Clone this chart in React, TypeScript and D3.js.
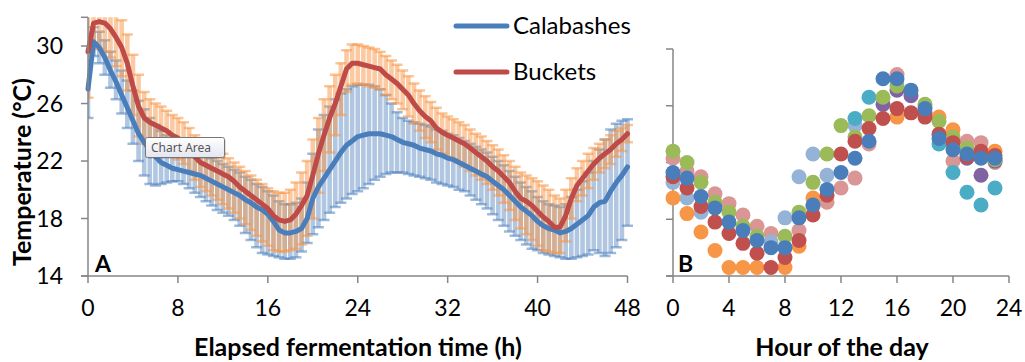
import React from "react";
import * as d3 from "d3";

// Panel A: elapsed fermentation time (h), every 0.5 h
const hours = d3.range(0, 48.5, 0.5);
const calMean = [
  27.0,30.3,29.9,29.2,28.3,27.5,26.6,25.7,24.8,23.9,
  23.3,22.8,22.3,21.9,21.7,21.5,21.4,21.3,21.2,21.1,
  21.0,20.8,20.6,20.4,20.2,20.0,19.8,19.6,19.3,19.1,
  18.8,18.6,18.3,17.8,17.2,17.0,17.0,17.1,17.3,18.0,
  19.4,20.2,20.8,21.4,22.0,22.6,23.1,23.4,23.7,23.8,
  23.9,23.9,23.9,23.8,23.7,23.5,23.3,23.2,23.1,22.9,
  22.8,22.7,22.5,22.4,22.2,22.1,21.9,21.7,21.5,21.3,
  21.1,20.9,20.6,20.3,20.0,19.6,19.2,18.8,18.5,18.2,
  17.8,17.5,17.3,17.2,17.0,17.1,17.3,17.6,17.9,18.2,
  18.8,19.1,19.2,19.9,20.5,21.0,21.6
];
const calHi = [
  29.0,31.3,31.0,30.4,29.6,29.0,28.3,27.6,26.9,26.2,
  25.6,25.0,24.5,24.1,23.8,23.5,23.3,23.1,23.0,22.8,
  22.6,22.4,22.2,22.0,21.8,21.6,21.4,21.2,20.9,20.7,
  20.4,20.2,19.9,19.6,19.2,19.0,19.0,19.1,19.4,20.5,
  22.5,24.2,25.2,25.8,26.3,26.7,27.0,27.2,27.3,27.3,
  27.3,27.2,27.0,26.6,26.0,25.4,25.0,24.8,24.7,24.6,
  24.5,24.4,24.2,24.1,23.9,23.8,23.6,23.4,23.2,23.0,
  22.8,22.6,22.3,22.0,21.7,21.3,20.9,20.5,20.2,19.9,
  19.5,19.2,19.0,18.9,18.8,19.0,19.5,20.0,20.6,21.2,
  22.0,22.8,23.5,24.2,24.6,24.8,24.9
];
const calLo = [
  25.0,29.3,28.8,28.0,27.1,26.3,25.3,24.3,23.2,22.0,
  21.0,20.4,20.3,20.4,20.5,20.6,20.6,20.4,20.1,19.8,
  19.5,19.2,18.9,18.6,18.4,18.2,17.9,17.5,17.0,16.5,
  16.0,15.6,15.5,15.4,15.3,15.2,15.2,15.3,15.7,16.3,
  16.9,17.4,17.9,18.4,18.8,19.1,19.4,19.7,19.9,20.1,
  20.4,20.7,20.9,21.1,21.2,21.2,21.2,21.1,21.0,20.9,
  20.8,20.7,20.5,20.4,20.3,20.2,20.0,19.9,19.6,19.3,
  19.0,18.7,18.3,17.9,17.5,17.1,16.8,16.5,16.2,15.9,
  15.8,15.6,15.5,15.4,15.3,15.2,15.2,15.3,15.4,15.5,
  15.8,15.6,15.4,15.6,16.0,16.5,17.5
];
const bucMean = [
  29.6,31.6,31.7,31.6,31.2,30.6,29.9,28.8,27.2,25.8,
  25.0,24.7,24.5,24.3,24.1,23.8,23.6,23.3,22.8,22.3,
  21.9,21.7,21.5,21.3,21.1,20.9,20.6,20.2,19.9,19.6,
  19.3,19.0,18.7,18.2,17.9,17.8,17.9,18.3,18.9,19.6,
  21.0,22.5,23.8,25.0,26.0,27.2,28.4,28.8,28.8,28.7,
  28.6,28.5,28.4,28.0,27.7,27.4,27.0,26.6,26.0,25.5,
  25.1,24.8,24.3,24.0,23.8,23.6,23.4,23.2,22.9,22.6,
  22.3,22.0,21.6,21.3,20.9,20.5,19.9,19.4,19.2,18.9,
  18.5,18.1,17.8,17.4,17.4,18.2,19.4,20.3,20.8,21.3,
  21.8,22.2,22.5,22.8,23.2,23.5,23.9
];
const bucHi = [
  32.8,33.5,33.5,33.4,33.0,32.5,31.8,30.8,29.4,28.0,
  26.8,26.3,26.0,25.8,25.5,25.2,25.0,24.7,24.3,23.8,
  23.5,23.2,23.0,22.7,22.5,22.2,21.9,21.6,21.3,21.0,
  20.7,20.4,20.1,19.9,19.8,19.8,20.0,20.5,21.2,22.0,
  23.5,25.0,26.3,27.2,28.0,28.8,29.7,30.1,30.1,30.0,
  29.9,29.8,29.6,29.3,29.0,28.7,28.3,27.9,27.4,26.9,
  26.5,26.1,25.7,25.3,25.1,24.9,24.7,24.5,24.2,23.9,
  23.7,23.4,23.1,22.8,22.4,22.0,21.6,21.2,21.0,20.8,
  20.6,20.3,20.0,19.6,19.4,20.0,20.8,21.5,22.0,22.5,
  22.9,23.2,23.5,23.8,24.1,24.3,24.5
];
const bucLo = [
  26.4,29.8,29.8,29.6,29.2,28.6,27.9,26.9,25.2,23.7,
  23.2,23.0,22.9,22.7,22.5,22.3,22.1,21.8,21.3,20.7,
  20.2,19.9,19.6,19.3,19.0,18.7,18.4,18.0,17.6,17.2,
  16.8,16.4,16.1,15.8,15.7,15.7,15.8,15.9,16.2,16.8,
  18.0,19.8,21.3,22.6,23.8,25.2,26.8,27.3,27.4,27.3,
  27.2,27.1,27.0,26.6,26.3,26.0,25.6,25.1,24.6,24.1,
  23.6,23.3,22.8,22.5,22.3,22.1,21.9,21.6,21.3,21.0,
  20.7,20.4,20.0,19.6,19.1,18.6,17.9,17.3,16.9,16.5,
  16.1,15.8,15.7,15.6,15.6,16.4,18.0,19.2,19.6,20.1,
  20.7,21.2,21.5,21.8,22.3,22.7,23.3
];
const xTicksA = [0, 8, 16, 24, 32, 40, 48];
const yTicks = [14, 18, 22, 26, 30];
const legendLabels = ["Calabashes", "Buckets"];

// Panel B: hour of the day, several fermentations
const hourOfDay = d3.range(0, 24);
const xTicksB = [0, 4, 8, 12, 16, 20, 24];
const _ = null;
const pinkS = [22.3,21.4,21.0,19.8,19.1,18.3,17.5,17.0,_,17.2,18.9,19.2,20.2,20.9,23.3,_,28.2,_,_,_,22.1,23.5,23.4,22.0];
const lightBlueS = [20.6,19.5,18.5,_,_,_,_,16.4,18.1,21.0,22.6,21.1,_,24.6,_,_,_,_,_,_,_,_,_,_];
const orangeS = [19.5,18.4,17.1,15.8,14.6,14.6,14.6,_,14.6,16.1,19.5,_,_,_,_,_,25.2,_,_,25.2,24.3,_,_,22.8];
const tealS = [_,_,_,_,_,_,_,_,_,_,_,_,_,25.1,26.6,_,_,_,_,23.3,21.3,19.9,19.0,20.2];
const purpleS = [_,_,_,_,_,_,_,_,_,_,_,_,_,_,_,26.1,27.1,26.7,25.5,_,_,22.3,21.1,22.1];
const greenS = [22.8,22.0,20.6,19.2,18.5,17.5,16.8,_,16.8,18.5,20.6,22.6,24.6,23.8,25.3,26.6,27.4,_,26.1,24.9,23.8,23.0,22.4,22.2];
const redS = [21.0,20.2,18.9,17.8,17.0,16.3,15.6,14.6,15.3,16.5,18.3,19.7,22.6,23.5,24.4,25.1,25.8,25.5,25.2,24.0,23.4,22.4,22.8,22.5];
const blueS = [21.3,20.9,19.6,18.8,17.8,17.2,16.5,16.0,16.0,18.1,19.0,20.1,21.3,22.3,23.5,27.9,27.9,27.1,25.8,23.7,22.9,22.6,22.3,22.3];
const scatterSeries = [
  { values: pinkS, color: "#D99694" },
  { values: lightBlueS, color: "#95B3D7" },
  { values: orangeS, color: "#F79646" },
  { values: tealS, color: "#4BACC6" },
  { values: purpleS, color: "#8064A2" },
  { values: greenS, color: "#9BBB59" },
  { values: redS, color: "#C0504D" },
  { values: blueS, color: "#4A7EBB" },
];

const FONT = "Lato, 'Open Sans', sans-serif";
const AXIS = "#868686";

export default function App() {
  const xA = d3.scaleLinear().domain([0, 48]).range([88, 627.5]);
  const yA = d3.scaleLinear().domain([14, 32]).range([276, 17.3]);
  const xB = d3.scaleLinear().domain([0, 24]).range([673, 1009]);
  const yB = d3.scaleLinear().domain([14, 30]).range([276, 49]);

  const lineA = (vals: number[]) =>
    d3.line<number>().x((_d, i) => xA(hours[i])).y((d) => yA(d))(vals) || "";

  const errBars = (hi: number[], lo: number[], color: string, key: string, op: number) => (
    <g key={key} stroke={color} clipPath="url(#clipA)">
      {hours.map((t, i) => (
        <g key={i}>
          <line x1={xA(t)} x2={xA(t)} y1={yA(hi[i])} y2={yA(lo[i])} strokeWidth={4.6} strokeOpacity={op} />
          <line x1={xA(t) - 5.5} x2={xA(t) + 5.5} y1={yA(hi[i])} y2={yA(hi[i])} strokeWidth={2.5} strokeOpacity={0.55} />
          <line x1={xA(t) - 5.5} x2={xA(t) + 5.5} y1={yA(lo[i])} y2={yA(lo[i])} strokeWidth={2.5} strokeOpacity={0.55} />
        </g>
      ))}
    </g>
  );

  return (
    <svg width={1025} height={362} style={{ position: "absolute", left: 0, top: 0, background: "#fff" }} fontFamily={FONT}>
      <defs>
        <clipPath id="clipA">
          <rect x={xA(0)} y={yA(32)} width={xA(48) - xA(0) + 6} height={yA(14) - yA(32)} />
        </clipPath>
        <linearGradient id="tipGrad" x1="0" y1="0" x2="0" y2="1">
          <stop offset="0" stopColor="#ffffff" />
          <stop offset="1" stopColor="#e4e5f0" />
        </linearGradient>
      </defs>

      {/* Panel A */}
      {errBars(calHi, calLo, "#4F81BD", "calErr", 0.45)}
      {errBars(bucHi, bucLo, "#F79646", "bucErr", 0.5)}
      <path d={lineA(calMean)} fill="none" stroke="#4A7EBB" strokeWidth={5} strokeLinejoin="round" strokeLinecap="round" />
      <path d={lineA(bucMean)} fill="none" stroke="#BE4B48" strokeWidth={5} strokeLinejoin="round" strokeLinecap="round" />

      <g stroke={AXIS} strokeWidth={1.5} fill="none">
        <line x1={xA(0)} x2={xA(0)} y1={yA(32)} y2={yA(14)} />
        <line x1={xA(0) - 7} x2={xA(48)} y1={yA(14)} y2={yA(14)} />
        {yTicks.map((v) => (
          <line key={v} x1={xA(0) - 7} x2={xA(0)} y1={yA(v)} y2={yA(v)} />
        ))}
        <line x1={xA(0) - 7} x2={xA(0)} y1={yA(32)} y2={yA(32)} />
        {xTicksA.map((v) => (
          <line key={v} x1={xA(v)} x2={xA(v)} y1={yA(14)} y2={yA(14) + 7} />
        ))}
      </g>
      {yTicks.map((v) => (
        <text key={v} x={63} y={yA(v)} dy="0.35em" textAnchor="end" fontSize={23} fill="#000">{v}</text>
      ))}
      {xTicksA.map((v) => (
        <text key={v} x={xA(v)} y={316} textAnchor="middle" fontSize={23} fill="#000">{v}</text>
      ))}
      <text x={95} y={272} fontSize={23} fontWeight="bold" fill="#000">A</text>
      <text x={358} y={356} textAnchor="middle" fontSize={25} fontWeight="bold" fill="#000">Elapsed fermentation time (h)</text>
      <text transform="translate(31,172) rotate(-90)" textAnchor="middle" fontSize={25} fontWeight="bold" fill="#000">Temperature (°C)</text>

      {/* Legend */}
      <line x1={456} x2={507} y1={26} y2={26} stroke="#4A7EBB" strokeWidth={5} strokeLinecap="round" />
      <text x={513} y={26} dy="0.35em" fontSize={24} fill="#000">{legendLabels[0]}</text>
      <line x1={456} x2={507} y1={72} y2={72} stroke="#BE4B48" strokeWidth={5} strokeLinecap="round" />
      <text x={513} y={72} dy="0.35em" fontSize={24} fill="#000">{legendLabels[1]}</text>

      {/* Chart Area tooltip */}
      <g>
        <rect x={147} y={139} width={79} height={20} rx={2} fill="#000" opacity={0.12} />
        <rect x={145.5} y={137.5} width={79} height={20} rx={2} fill="url(#tipGrad)" stroke="#767676" />
        <text x={151} y={152} fontSize={12} fill="#575757" fontFamily="'Noto Sans', 'Open Sans', sans-serif">Chart Area</text>
      </g>

      {/* Panel B */}
      <g stroke={AXIS} strokeWidth={1.5} fill="none">
        <line x1={xB(0)} x2={xB(0)} y1={yB(30)} y2={yB(14)} />
        <line x1={xB(0) - 7} x2={xB(24)} y1={yB(14)} y2={yB(14)} />
        {yTicks.map((v) => (
          <line key={v} x1={xB(0) - 7} x2={xB(0)} y1={yB(v)} y2={yB(v)} />
        ))}
        {xTicksB.map((v) => (
          <line key={v} x1={xB(v)} x2={xB(v)} y1={yB(14)} y2={yB(14) + 7} />
        ))}
      </g>
      {scatterSeries.map((s, si) => (
        <g key={si} fill={s.color}>
          {hourOfDay.map((h, i) =>
            s.values[i] == null ? null : (
              <circle key={i} cx={xB(h)} cy={yB(s.values[i] as number)} r={7.5} />
            )
          )}
        </g>
      ))}
      {xTicksB.map((v) => (
        <text key={v} x={xB(v)} y={316} textAnchor="middle" fontSize={23} fill="#000">{v}</text>
      ))}
      <text x={678} y={272} fontSize={23} fontWeight="bold" fill="#000">B</text>
      <text x={842} y={356} textAnchor="middle" fontSize={25} fontWeight="bold" fill="#000">Hour of the day</text>
    </svg>
  );
}
